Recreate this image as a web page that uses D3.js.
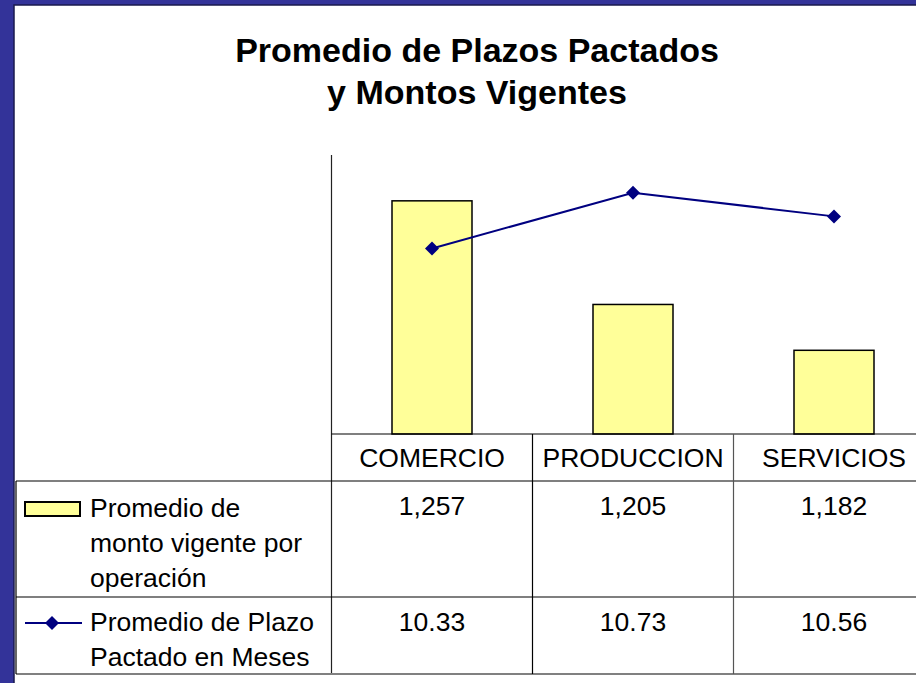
<!DOCTYPE html>
<html>
<head>
<meta charset="utf-8">
<script src="https://cdn.jsdelivr.net/npm/d3@7"></script>
<style>
  html, body { margin: 0; padding: 0; background: #fff; }
  svg { display: block; }
  text { font-family: "Liberation Sans", Arial, sans-serif; fill: #000; }
</style>
</head>
<body>
<div id="chart"></div>
<script>
// data
var categories = ['COMERCIO', 'PRODUCCION', 'SERVICIOS']
var montoValues = [1257, 1205, 1182]
var plazoValues = [10.33, 10.73, 10.56]
var montoDomain = [1140, 1280]
var plazoDomain = [9, 11]
var titleLines = ['Promedio de Plazos Pactados', 'y Montos Vigentes']
var montoLegend = ['Promedio de', 'monto vigente por', 'operación']
var plazoLegend = ['Promedio de Plazo', 'Pactado en Meses']

var width = 916, height = 683
  , plotTop = 155, base = 434
  , headBottom = 481, row1Bottom = 597, tableBottom = 674
  , colLeft = 331.5, colWidth = 201, tableLeft = 16
  , navy = '#000080', frame = '#333399'
  , cellFont = '26.5px'

var svg = d3.select('#chart').append('svg')
    .attr('width', width)
    .attr('height', height)

// frame
svg.append('rect').attr('x', 0).attr('y', 0).attr('width', width).attr('height', height).attr('fill', frame)
svg.append('rect').attr('x', 14).attr('y', 5).attr('width', width).attr('height', height)
  .attr('fill', '#fff').attr('stroke', '#1a1a4d').attr('stroke-width', 1.5)

// title
svg.append('g').selectAll('text')
  .data(titleLines)
  .enter().append('text')
    .attr('x', 477)
    .attr('y', function(d, i) { return 62 + i * 42 })
    .attr('text-anchor', 'middle')
    .style('font-size', '34px')
    .style('font-weight', 'bold')
    .text(function(d) { return d })

var x = d3.scaleBand()
  .domain(categories)
  .range([colLeft, colLeft + colWidth * categories.length])
  .paddingInner(0)

var y = d3.scaleLinear().domain(montoDomain).range([base, plotTop])
var y2 = d3.scaleLinear().domain(plazoDomain).range([base, plotTop])

var barW = 80

// bars
svg.append('g').selectAll('rect')
  .data(montoValues)
  .enter().append('rect')
    .attr('x', function(d, i) { return x(categories[i]) + (x.bandwidth() - barW) / 2 })
    .attr('y', function(d) { return y(d) })
    .attr('width', barW)
    .attr('height', function(d) { return base - y(d) })
    .attr('fill', '#ffff99')
    .attr('stroke', '#000')
    .attr('stroke-width', 1.5)

// axis line + base line
svg.append('line').attr('x1', colLeft).attr('x2', colLeft).attr('y1', plotTop).attr('y2', tableBottom)
  .attr('stroke', '#222').attr('stroke-width', 1.2)
svg.append('line').attr('x1', colLeft).attr('x2', width).attr('y1', base).attr('y2', base)
  .attr('stroke', '#000').attr('stroke-width', 1.2)

// line series
var line = d3.line()
  .x(function(d, i) { return x(categories[i]) + x.bandwidth() / 2 })
  .y(function(d) { return y2(d) })

svg.append('path')
  .datum(plazoValues)
  .attr('d', line)
  .attr('fill', 'none')
  .attr('stroke', navy)
  .attr('stroke-width', 2)

var diamond = d3.symbol().type(d3.symbolDiamond2).size(125)

svg.append('g').selectAll('path')
  .data(plazoValues)
  .enter().append('path')
    .attr('d', diamond)
    .attr('transform', function(d, i) {
      return 'translate(' + (x(categories[i]) + x.bandwidth() / 2) + ',' + y2(d) + ')'
    })
    .attr('fill', navy)

// data table
var grid = svg.append('g').attr('stroke', '#000').attr('stroke-width', 1.2)
grid.append('line').attr('x1', tableLeft).attr('x2', width).attr('y1', headBottom).attr('y2', headBottom)
grid.append('line').attr('x1', tableLeft).attr('x2', width).attr('y1', row1Bottom).attr('y2', row1Bottom)
grid.append('line').attr('x1', tableLeft).attr('x2', width).attr('y1', tableBottom).attr('y2', tableBottom)
  .attr('stroke', '#808080').attr('stroke-width', 2)
grid.append('line').attr('x1', tableLeft).attr('x2', tableLeft).attr('y1', headBottom).attr('y2', tableBottom)

categories.forEach(function(c, i) {
  if (i > 0)
    grid.append('line').attr('x1', x(c)).attr('x2', x(c)).attr('y1', base).attr('y2', tableBottom)
      .attr('stroke', i == 2 ? '#555' : '#000')
})

var cellText = svg.append('g')
  .attr('text-anchor', 'middle')
  .style('font-size', cellFont)

cellText.selectAll('text.cat')
  .data(categories)
  .enter().append('text')
    .attr('class', 'cat')
    .attr('x', function(d) { return x(d) + x.bandwidth() / 2 })
    .attr('y', 467)
    .text(function(d) { return d })

cellText.selectAll('text.monto')
  .data(montoValues)
  .enter().append('text')
    .attr('class', 'monto')
    .attr('x', function(d, i) { return x(categories[i]) + x.bandwidth() / 2 })
    .attr('y', 515)
    .text(d3.format(','))

cellText.selectAll('text.plazo')
  .data(plazoValues)
  .enter().append('text')
    .attr('class', 'plazo')
    .attr('x', function(d, i) { return x(categories[i]) + x.bandwidth() / 2 })
    .attr('y', 631)
    .text(d3.format('.2f'))

// legend keys
svg.append('rect').attr('x', 25).attr('y', 502).attr('width', 55).attr('height', 14)
  .attr('fill', '#ffff99').attr('stroke', '#000').attr('stroke-width', 2)
svg.append('line').attr('x1', 25).attr('x2', 82).attr('y1', 623).attr('y2', 623)
  .attr('stroke', navy).attr('stroke-width', 2)
svg.append('path').attr('d', diamond).attr('transform', 'translate(52,623)').attr('fill', navy)

var legText = svg.append('g').style('font-size', cellFont)
legText.selectAll('text.l1')
  .data(montoLegend)
  .enter().append('text')
    .attr('class', 'l1')
    .attr('x', 90)
    .attr('y', function(d, i) { return 517 + i * 35 })
    .text(function(d) { return d })
legText.selectAll('text.l2')
  .data(plazoLegend)
  .enter().append('text')
    .attr('class', 'l2')
    .attr('x', 90)
    .attr('y', function(d, i) { return 631 + i * 35 })
    .text(function(d) { return d })
</script>
</body>
</html>
